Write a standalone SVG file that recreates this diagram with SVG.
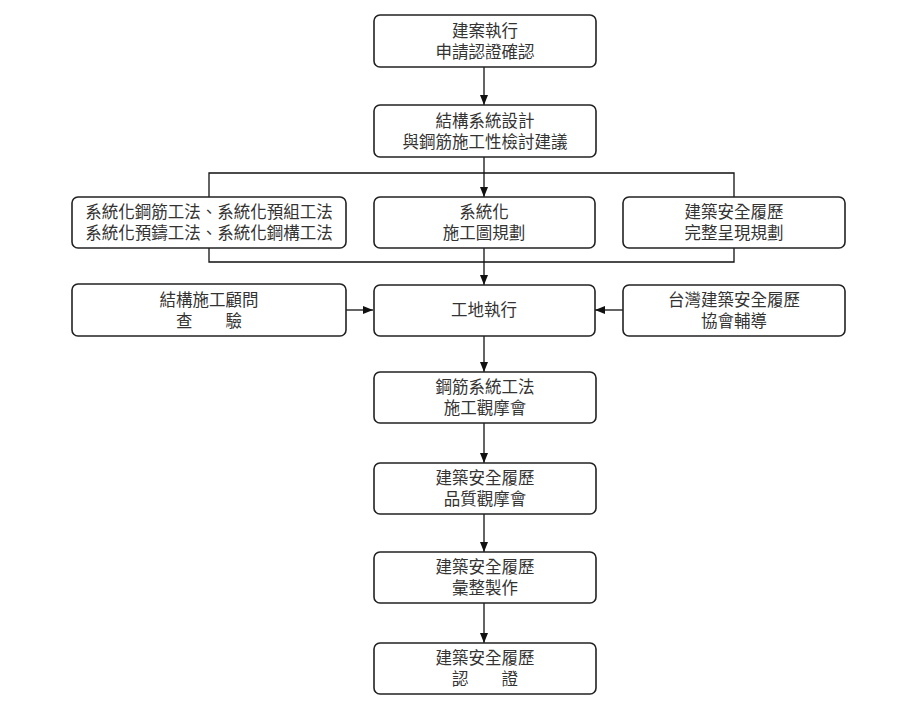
<svg xmlns="http://www.w3.org/2000/svg" width="918" height="725" viewBox="0 0 918 725">
<defs>
<marker id="ah" markerWidth="10" markerHeight="10" viewBox="0 0 10 10" refX="10" refY="5" orient="auto" markerUnits="userSpaceOnUse">
<path d="M0,1 L10,5 L0,9 Z" fill="#111"/>
</marker>
<style>
.box{fill:#fff;stroke:#222;stroke-width:1.6}
.t{font-family:"Noto Sans CJK TC","Noto Sans CJK SC",sans-serif;font-size:16.5px;fill:#333;text-anchor:middle}
.c{fill:none;stroke:#111;stroke-width:1.3}
</style>
</defs>
<rect width="918" height="725" fill="#fff"/>
<g id="connectors">
<line class="c" x1="484" y1="67" x2="484" y2="105" marker-end="url(#ah)"/>
<line class="c" x1="484" y1="157" x2="484" y2="197" marker-end="url(#ah)"/>
<polyline class="c" points="209,197 209,173 734,173 734,197"/>
<polyline class="c" points="209,248 209,262 734,262 734,248"/>
<line class="c" x1="484" y1="248" x2="484" y2="285" marker-end="url(#ah)"/>
<line class="c" x1="346" y1="310" x2="373" y2="310" marker-end="url(#ah)"/>
<line class="c" x1="623" y1="310" x2="595" y2="310" marker-end="url(#ah)"/>
<line class="c" x1="484" y1="336" x2="484" y2="372" marker-end="url(#ah)"/>
<line class="c" x1="484" y1="423" x2="484" y2="463" marker-end="url(#ah)"/>
<line class="c" x1="484" y1="514" x2="484" y2="552" marker-end="url(#ah)"/>
<line class="c" x1="484" y1="603" x2="484" y2="643" marker-end="url(#ah)"/>
</g>
<g id="n1"><rect class="box" x="374" y="15" width="222" height="52" rx="6"/><text class="t" x="485" y="37">建案執行</text><text class="t" x="485" y="58">申請認證確認</text></g>
<g id="n2"><rect class="box" x="374" y="105" width="222" height="52" rx="6"/><text class="t" x="485" y="127">結構系統設計</text><text class="t" x="485" y="148">與鋼筋施工性檢討建議</text></g>
<g id="n3"><rect class="box" x="72" y="197" width="274" height="51" rx="6"/><text class="t" x="209" y="218">系統化鋼筋工法、系統化預組工法</text><text class="t" x="209" y="239">系統化預鑄工法、系統化鋼構工法</text></g>
<g id="n4"><rect class="box" x="374" y="197" width="221" height="51" rx="6"/><text class="t" x="484" y="218">系統化</text><text class="t" x="484" y="239">施工圖規劃</text></g>
<g id="n5"><rect class="box" x="623" y="197" width="222" height="51" rx="6"/><text class="t" x="734" y="218">建築安全履歷</text><text class="t" x="734" y="239">完整呈現規劃</text></g>
<g id="n6"><rect class="box" x="72" y="284" width="274" height="52" rx="6"/><text class="t" x="209" y="306">結構施工顧問</text><text class="t" x="209" y="327">查　　驗</text></g>
<g id="n7"><rect class="box" x="374" y="285" width="221" height="51" rx="6"/><text class="t" x="484" y="316">工地執行</text></g>
<g id="n8"><rect class="box" x="623" y="285" width="222" height="51" rx="6"/><text class="t" x="734" y="306">台灣建築安全履歷</text><text class="t" x="734" y="327">協會輔導</text></g>
<g id="n9"><rect class="box" x="374" y="372" width="222" height="51" rx="6"/><text class="t" x="485" y="393">鋼筋系統工法</text><text class="t" x="485" y="414">施工觀摩會</text></g>
<g id="n10"><rect class="box" x="374" y="463" width="222" height="51" rx="6"/><text class="t" x="485" y="484">建築安全履歷</text><text class="t" x="485" y="505">品質觀摩會</text></g>
<g id="n11"><rect class="box" x="374" y="552" width="222" height="51" rx="6"/><text class="t" x="485" y="573">建築安全履歷</text><text class="t" x="485" y="594">彙整製作</text></g>
<g id="n12"><rect class="box" x="374" y="643" width="222" height="51" rx="6"/><text class="t" x="485" y="664">建築安全履歷</text><text class="t" x="485" y="685">認　　證</text></g>
</svg>
